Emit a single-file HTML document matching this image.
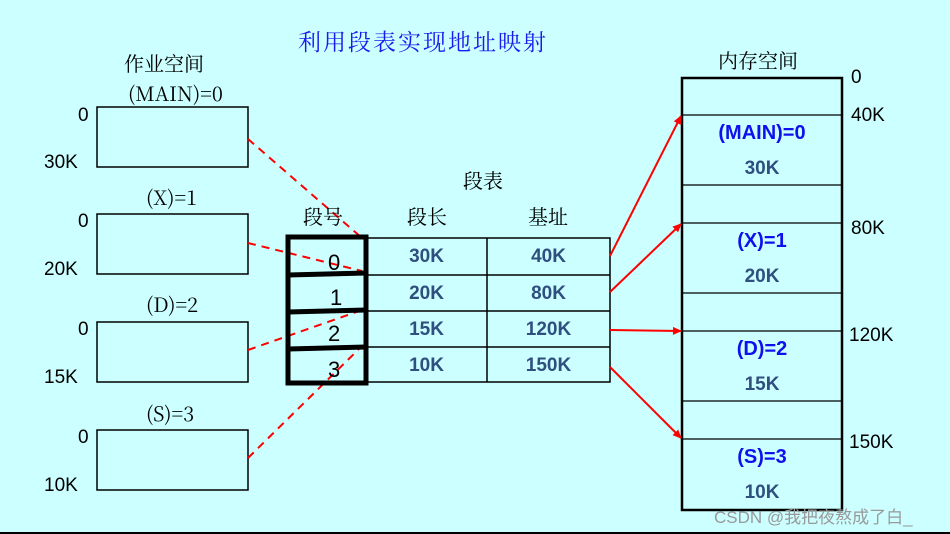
<!DOCTYPE html><html><head><meta charset="utf-8"><style>
body{margin:0;width:950px;height:534px;background:#ccffff;overflow:hidden;position:relative;font-family:"Liberation Sans","Noto Serif CJK SC",sans-serif}
.t{position:absolute;white-space:nowrap}
.s{font-family:"Noto Serif CJK SC",serif;font-size:20px;color:#000}
.n{font-size:19px;color:#000}
.b{font-weight:bold;color:#2f4f7f;font-size:19px;text-align:center}
.bl{font-weight:bold;color:#1010ee;font-size:20px;text-align:center}
</style></head><body>
<svg width="950" height="534" style="position:absolute;left:0;top:0">
<defs><marker id="a" markerUnits="userSpaceOnUse" markerWidth="9" markerHeight="8" refX="8" refY="4" orient="auto"><path d="M0,0L9,4L0,8z" fill="#f00"/></marker></defs>
<g fill="none" stroke="#000" stroke-width="1.5">
<rect x="97" y="107" width="151" height="60"/><rect x="97" y="214" width="151" height="60"/>
<rect x="97" y="322" width="151" height="60"/><rect x="97" y="430" width="151" height="60"/>
<rect x="366" y="238" width="244" height="144"/>
<line x1="366" y1="275" x2="610" y2="275"/><line x1="366" y1="311" x2="610" y2="311"/><line x1="366" y1="347" x2="610" y2="347"/>
<line x1="487" y1="238" x2="487" y2="382"/>
</g>
<g fill="none" stroke="#000" stroke-width="2.5">
<rect x="682" y="78" width="160" height="432"/>
</g>
<g stroke="#000" stroke-width="1.2">
<line x1="682" y1="115" x2="842" y2="115"/><line x1="682" y1="185" x2="842" y2="185"/>
<line x1="682" y1="223" x2="842" y2="223"/><line x1="682" y1="293" x2="842" y2="293"/>
<line x1="682" y1="331" x2="842" y2="331"/><line x1="682" y1="401" x2="842" y2="401"/>
<line x1="682" y1="439" x2="842" y2="439"/>
<line x1="0" y1="533" x2="950" y2="533" stroke-width="2"/>
</g>
<g stroke="#f00" stroke-width="2" stroke-dasharray="8,6">
<line x1="248" y1="139" x2="362" y2="238"/><line x1="248" y1="243" x2="362" y2="271"/>
<line x1="248" y1="350" x2="362" y2="310"/><line x1="248" y1="458" x2="362" y2="346"/>
</g>
<g stroke="#f00" stroke-width="2" marker-end="url(#a)">
<line x1="610" y1="256" x2="681" y2="116"/><line x1="610" y1="292" x2="681" y2="224"/>
<line x1="610" y1="330" x2="681" y2="331"/><line x1="610" y1="367" x2="681" y2="438"/>
</g>
<g fill="none" stroke="#000" stroke-width="5">
<rect x="288" y="237" width="78" height="146"/>
<line x1="288" y1="275" x2="366" y2="273"/><line x1="288" y1="312" x2="366" y2="310"/><line x1="288" y1="349" x2="366" y2="347"/>
</g>
</svg>
<div class="t" style="left:298px;top:24px;font-family:'Noto Serif CJK SC',serif;font-size:23px;color:#1a1aee;letter-spacing:2px">利用段表实现地址映射</div>
<div class="t s" style="left:124px;top:48px">作业空间</div>
<div class="t s" style="left:128px;top:78px">(MAIN)=0</div>
<div class="t s" style="left:146px;top:182px">(X)=1</div>
<div class="t s" style="left:146px;top:289px">(D)=2</div>
<div class="t s" style="left:146px;top:398px">(S)=3</div>
<div class="t n" style="left:78px;top:105px">0</div><div class="t n" style="left:44px;top:152px">30K</div>
<div class="t n" style="left:78px;top:211px">0</div><div class="t n" style="left:44px;top:259px">20K</div>
<div class="t n" style="left:78px;top:319px">0</div><div class="t n" style="left:44px;top:367px">15K</div>
<div class="t n" style="left:78px;top:427px">0</div><div class="t n" style="left:44px;top:475px">10K</div>
<div class="t s" style="left:463px;top:165px">段表</div>
<div class="t s" style="left:303px;top:201px">段号</div>
<div class="t s" style="left:407px;top:201px">段长</div>
<div class="t s" style="left:528px;top:201px">基址</div>
<div class="t" style="left:328px;top:250px;font-size:22px">0</div>
<div class="t" style="left:330px;top:285px;font-size:22px">1</div>
<div class="t" style="left:328px;top:321px;font-size:22px">2</div>
<div class="t" style="left:328px;top:357px;font-size:22px">3</div>
<div class="t b" style="left:366px;top:246px;width:121px">30K</div><div class="t b" style="left:487px;top:246px;width:123px">40K</div>
<div class="t b" style="left:366px;top:283px;width:121px">20K</div><div class="t b" style="left:487px;top:283px;width:123px">80K</div>
<div class="t b" style="left:366px;top:319px;width:121px">15K</div><div class="t b" style="left:487px;top:319px;width:123px">120K</div>
<div class="t b" style="left:366px;top:355px;width:121px">10K</div><div class="t b" style="left:487px;top:355px;width:123px">150K</div>
<div class="t s" style="left:718px;top:45px">内存空间</div>
<div class="t n" style="left:851px;top:67px">0</div>
<div class="t n" style="left:851px;top:105px">40K</div>
<div class="t n" style="left:851px;top:218px">80K</div>
<div class="t n" style="left:849px;top:325px">120K</div>
<div class="t n" style="left:849px;top:432px">150K</div>
<div class="t bl" style="left:682px;top:122px;width:160px">(MAIN)=0</div><div class="t b" style="left:682px;top:158px;width:160px">30K</div>
<div class="t bl" style="left:682px;top:230px;width:160px">(X)=1</div><div class="t b" style="left:682px;top:266px;width:160px">20K</div>
<div class="t bl" style="left:682px;top:338px;width:160px">(D)=2</div><div class="t b" style="left:682px;top:374px;width:160px">15K</div>
<div class="t bl" style="left:682px;top:446px;width:160px">(S)=3</div><div class="t b" style="left:682px;top:482px;width:160px">10K</div>
<div class="t" style="left:714px;top:503px;font-size:17px;color:#999;font-family:'Liberation Sans','Noto Sans CJK SC',sans-serif">CSDN @我把夜熬成了白_</div>
</body></html>
